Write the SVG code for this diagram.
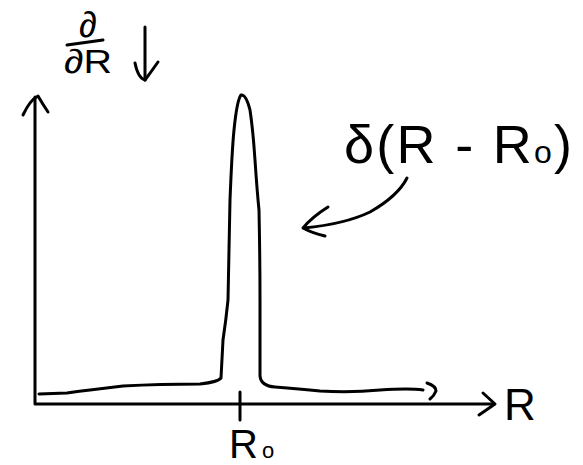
<svg xmlns="http://www.w3.org/2000/svg" width="583" height="465" viewBox="0 0 583 465">
<style>
.ink{fill:none;stroke:#000;stroke-width:3;stroke-linecap:round;stroke-linejoin:round}
.txt{font-family:"Liberation Sans","DejaVu Sans",sans-serif;fill:#000}
</style>
<rect width="583" height="465" fill="#fff"/>
<g id="axes">
  <path class="ink" d="M35,97 L35,404 L494,404"/>
  <path class="ink" d="M23,115 Q30,100 38,96 Q42,103 48,112"/>
  <path class="ink" d="M483,393 L495,404 L479,415"/>
  <path class="ink" d="M240,392 L240,420"/>
</g>
<g id="curve">
  <path class="ink" d="M39,394 L67,393 Q80,391 90,390 L123,386 Q160,384 200,384 Q218,382 221,378 Q222,360 223,340 Q226,320 228,300 Q229,260 230,200 Q232,150 234,130 Q237,100 241,95 Q246,94 250,110 Q253,130 255,160 Q257,190 259,210 Q260,260 260,300 L260,376 Q261,386 275,387 Q300,389 320,391 Q350,393 380,390 Q410,388 423,390"/>
  <path class="ink" d="M427,383 Q436,386 436,391 Q434,396 430,399"/>
</g>
<g id="connectors">
  <path class="ink" d="M407,178 Q398,196 370,212 Q345,224 304,228"/>
  <path class="ink" d="M328,207 Q312,217 303,228 Q312,233 325,236"/>
  <path class="ink" d="M145,27 L145,80"/>
  <path class="ink" d="M135,63 Q138,78 145,80 Q151,72 158,62"/>
</g>
<g id="derivative-label">
  <text class="txt" x="88" y="37" font-size="36" text-anchor="middle">∂</text>
  <path class="ink" d="M67,45 L103,40"/>
  <text class="txt" x="64" y="73" font-size="34" textLength="48" lengthAdjust="spacingAndGlyphs">∂R</text>
</g>
<g id="delta-label">
  <text class="txt" x="344" y="163" font-size="54" textLength="228" lengthAdjust="spacing">δ(R - R<tspan font-size="32">o</tspan>)</text>
</g>
<g id="axis-labels">
  <text class="txt" x="504" y="420" font-size="44">R</text>
  <text class="txt" x="229" y="458" font-size="40">R<tspan font-size="22" dx="4">o</tspan></text>
</g>
</svg>
